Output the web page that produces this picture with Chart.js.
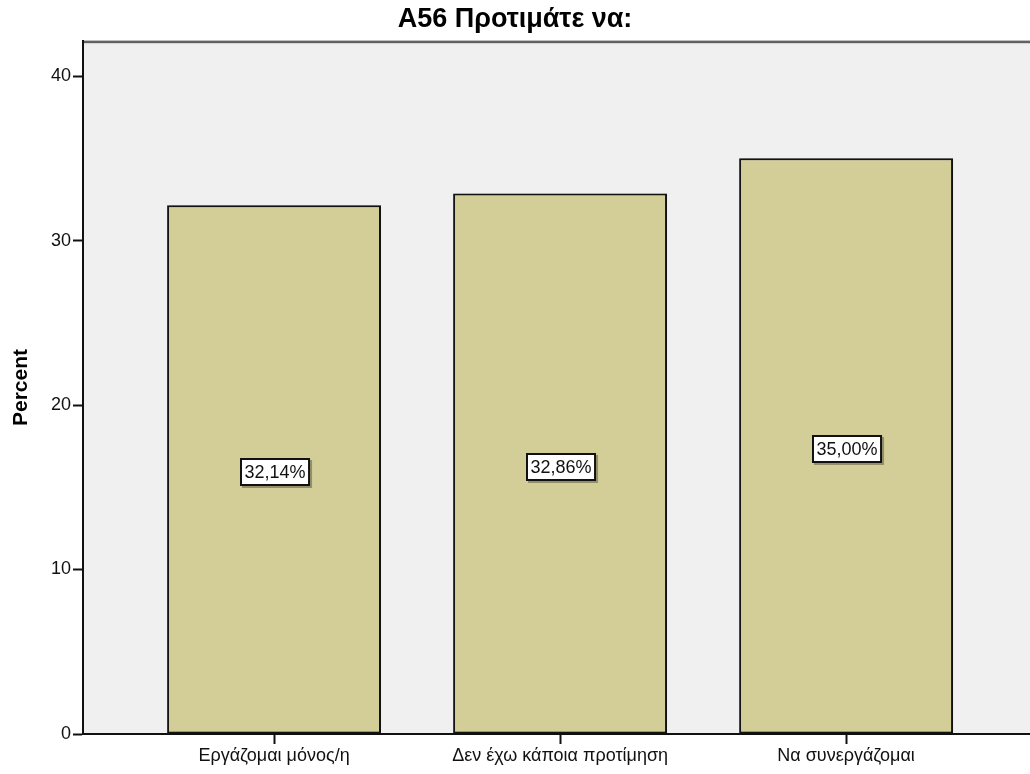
<!DOCTYPE html>
<html>
<head>
<meta charset="utf-8">
<script src="https://cdn.jsdelivr.net/npm/chart.js@4.4.1/dist/chart.umd.min.js"></script>
<style>
  html, body { margin: 0; padding: 0; background: #ffffff; overflow: hidden; }
  #chart { display: block; }
</style>
</head>
<body>
<canvas id="chart" width="1030" height="774"></canvas>
<script>
// Survey item A56: share of answers per option (percent)
const categories = ['Εργάζομαι μόνος/η', 'Δεν έχω κάποια προτίμηση', 'Να συνεργάζομαι'];
const percents = [32.14, 32.86, 35.00];
const yTicks = [0, 10, 20, 30, 40];
const chartTitle = 'A56 Προτιμάτε να:';
const yTitle = 'Percent';

const FONT = "'Liberation Sans', Arial, sans-serif";
const BAR_FILL = '#d3ce97';
const PLOT_BG = '#f0f0f0';

const fmt = v => v.toFixed(2).replace('.', ',') + '%';

// Plot background and frame
const frame = {
  id: 'frame',
  beforeDraw(chart) {
    const { ctx, chartArea: a } = chart;
    ctx.save();
    ctx.fillStyle = PLOT_BG;
    ctx.fillRect(a.left, a.top, a.right - a.left, a.bottom - a.top);
    ctx.fillStyle = '#bdbdbd';
    ctx.fillRect(a.left, a.top - 1, a.right - a.left, 1);
    ctx.fillStyle = '#5e5e5e';
    ctx.fillRect(a.left, a.top, a.right - a.left, 2);
    ctx.fillStyle = '#d6d6d6';
    ctx.fillRect(a.left, a.top + 2, a.right - a.left, 1);
    ctx.restore();
  }
};

// Soft shadow to the right of each bar
const barShadow = {
  id: 'barShadow',
  beforeDatasetsDraw(chart) {
    const ctx = chart.ctx;
    ctx.save();
    ctx.shadowColor = 'rgba(0,0,0,0.28)';
    ctx.shadowOffsetX = 2;
    ctx.shadowOffsetY = 0;
    ctx.shadowBlur = 2;
  },
  afterDatasetsDraw(chart) {
    chart.ctx.restore();
  }
};

// Boxed value labels at the middle of each bar
const valueBoxes = {
  id: 'valueBoxes',
  afterDatasetsDraw(chart) {
    const { ctx } = chart;
    const meta = chart.getDatasetMeta(0);
    ctx.save();
    ctx.font = '18px ' + FONT;
    ctx.textAlign = 'center';
    ctx.textBaseline = 'middle';
    meta.data.forEach((el, i) => {
      const txt = fmt(percents[i]);
      const w = ctx.measureText(txt).width + 9;
      const h = 28;
      const cx = el.x + 1;
      const cy = (el.y + el.base) / 2 + 3;
      const x0 = Math.round(cx - w / 2), y0 = Math.round(cy - h / 2);
      ctx.fillStyle = 'rgba(0,0,0,0.3)';
      ctx.fillRect(x0 + 2, y0 + 2, w, h);
      ctx.fillStyle = '#ffffff';
      ctx.fillRect(x0, y0, w, h);
      ctx.strokeStyle = '#111111';
      ctx.lineWidth = 2;
      ctx.strokeRect(x0 + 1, y0 + 1, w - 2, h - 2);
      ctx.fillStyle = '#111111';
      ctx.fillText(txt, x0 + w / 2, y0 + h / 2 + 1);
    });
    ctx.restore();
  }
};

new Chart(document.getElementById('chart'), {
  type: 'bar',
  data: {
    datasets: [{
      data: categories.map((c, i) => ({ x: i, y: percents[i] })),
      backgroundColor: BAR_FILL,
      borderColor: '#151515',
      borderWidth: 2,
      borderSkipped: false,
      categoryPercentage: 1,
      barPercentage: 0.748
    }]
  },
  options: {
    responsive: false,
    animation: false,
    devicePixelRatio: 1,
    layout: { padding: 0 },
    plugins: {
      legend: { display: false },
      tooltip: { enabled: false },
      title: {
        display: true,
        text: chartTitle,
        color: '#000000',
        font: { family: FONT, size: 27, weight: 'bold', lineHeight: 1.15 },
        padding: { top: 4, bottom: 6 }
      }
    },
    scales: {
      x: {
        type: 'linear',
        min: -0.668,
        max: 2.643,
        offset: false,
        afterFit(s) { s.height = 40; },
        afterBuildTicks(s) { s.ticks = categories.map((c, i) => ({ value: i })); },
        grid: {
          offset: false,
          drawOnChartArea: false,
          drawTicks: true,
          tickLength: 10,
          tickWidth: 2,
          tickColor: '#111111'
        },
        border: { display: true, color: '#111111', width: 2 },
        ticks: {
          autoSkip: false,
          maxRotation: 0,
          padding: 1,
          color: '#111111',
          font: { family: FONT, size: 18 },
          callback: v => categories[v]
        }
      },
      y: {
        min: 0,
        max: 42.13,
        afterFit(s) { s.width = 83; },
        afterBuildTicks(s) { s.ticks = yTicks.map(v => ({ value: v })); },
        grid: {
          drawOnChartArea: false,
          drawTicks: true,
          tickLength: 10,
          tickWidth: 2,
          tickColor: '#111111'
        },
        border: { display: true, color: '#111111', width: 2 },
        ticks: {
          padding: 2,
          color: '#111111',
          font: { family: FONT, size: 18 }
        },
        title: {
          display: true,
          text: yTitle,
          color: '#000000',
          font: { family: FONT, size: 21, weight: 'bold' },
          padding: { top: 9, bottom: 0 }
        }
      }
    }
  },
  plugins: [frame, barShadow, valueBoxes]
});
</script>
</body>
</html>
